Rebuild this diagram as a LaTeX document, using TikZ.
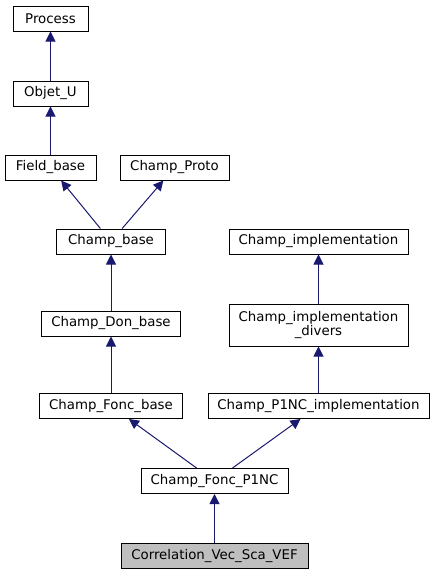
\documentclass[tikz,border=0pt]{standalone}
\usepackage{fontspec}
\setmainfont{DejaVu Sans}
\usetikzlibrary{arrows.meta}
\definecolor{edgeblue}{HTML}{191970}
\tikzset{
cls/.style = {draw=black, line width=0.75pt, fill=white, inner xsep=0pt, inner ysep=0pt, minimum height=18.75pt, align=center, font=\fontsize{10}{11}\selectfont},
leaf/.style = {cls, fill=black!25},
inh/.style = {draw=edgeblue, line width=0.75pt, -{Triangle[length=7.5pt,width=7.5pt,fill=edgeblue]}}
}

\begin{document}
\begin{tikzpicture}[x=0.75pt,y=-0.75pt]
\useasboundingbox (0,0) rectangle (435,575);
%
\def\classlist{proc/50.5/18.5/75/Process,
objet/50.5/93.5/75/Objet\_U,
field/50.5/167.5/91/Field\_base,
proto/174.5/167.5/109/Champ\_Proto,
base/111/241.5/109/Champ\_base,
impl/318.5/241.5/179/Champ\_implementation,
don/111/323.5/139/Champ\_Don\_base,
fbase/111/406/143/Champ\_Fonc\_base,
p1impl/318.5/406/221/Champ\_P1NC\_implementation,
p1nc/214.5/481/147/Champ\_Fonc\_P1NC}
\def\inhlist{objet/proc,field/objet,base/field,base/proto,don/base,divers/impl,fbase/don,p1impl/divers,p1nc/fbase,p1nc/p1impl,corr/p1nc}
%
\foreach \n/\x/\y/\w/\txt in \classlist {
\node[cls, minimum width=0.75pt*\w] (\n) at (\x,\y) {\txt};
}
\node[cls, minimum width=134.25pt, minimum height=31.5pt] (divers) at (318.5,325) {Champ\_implementation\\\_divers};
\node[leaf, minimum width=140.25pt] (corr) at (214.5,555.5) {Correlation\_Vec\_Sca\_VEF};
%
\foreach \a/\b in \inhlist {\draw[inh] (\a) -- (\b);}
%
\end{tikzpicture}
\end{document}
